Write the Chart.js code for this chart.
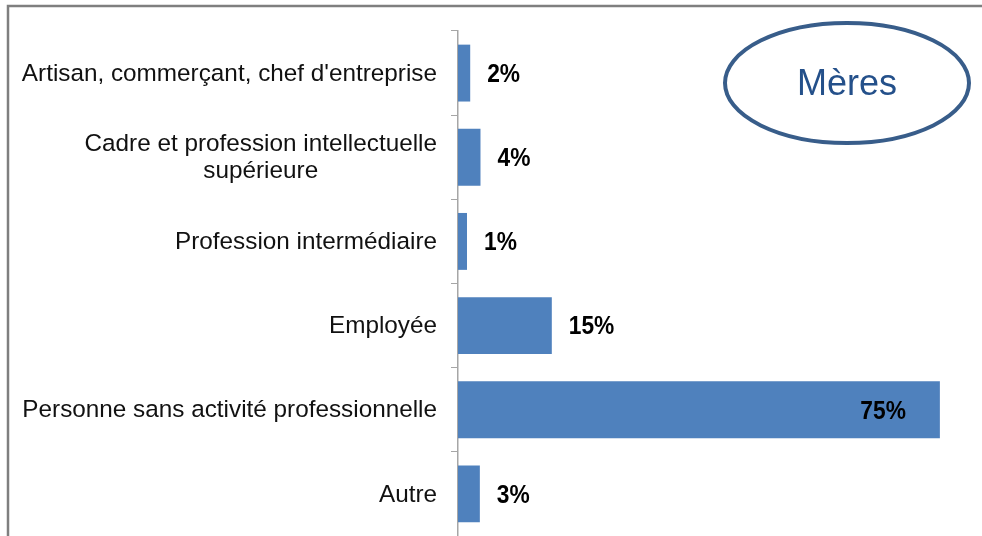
<!DOCTYPE html>
<html>
<head>
<meta charset="utf-8">
<script src="https://cdn.jsdelivr.net/npm/chart.js@4.4.1/dist/chart.umd.min.js"></script>
<style>
  html, body { margin: 0; padding: 0; background: #ffffff; }
  #wrap { width: 982px; height: 536px; position: relative; }
  canvas { display: block; }
</style>
</head>
<body>
<div id="wrap"><canvas id="c" width="982" height="536"></canvas></div>
<script>
// ---- Data ----
const categories = [
  "Artisan, commerçant, chef d'entreprise",
  ["Cadre et profession intellectuelle", "supérieure"],
  "Profession intermédiaire",
  "Employée",
  "Personne sans activité professionnelle",
  "Autre"
];
const values = [1.9, 3.5, 1.4, 14.6, 75.0, 3.4];
const valueLabels = ["2%", "4%", "1%", "15%", "75%", "3%"];
const badgeText = "Mères";

const FONT = '"Liberation Sans", Arial, Helvetica, sans-serif';

const framePlugin = {
  id: 'frame',
  beforeDraw(chart) {
    const ctx = chart.ctx;
    ctx.save();
    ctx.fillStyle = '#ffffff';
    ctx.fillRect(0, 0, chart.width, chart.height);
    ctx.strokeStyle = '#7f7f7f';
    ctx.lineWidth = 2.5;
    ctx.strokeRect(8, 6, 1200, 1200);
    ctx.restore();
  }
};

const textPlugin = {
  id: 'texts',
  afterDraw(chart) {
    const ctx = chart.ctx;
    const yScale = chart.scales.y;
    const meta = chart.getDatasetMeta(0);
    ctx.save();
    // category labels: block right-aligned, lines centred within block
    ctx.font = '24.3px ' + FONT;
    ctx.fillStyle = '#111111';
    ctx.textBaseline = 'middle';
    ctx.textAlign = 'center';
    const rightX = yScale.right - 21;
    const lh = 27;
    categories.forEach((lab, i) => {
      const lines = Array.isArray(lab) ? lab : [lab];
      const w = Math.max(...lines.map(l => ctx.measureText(l).width));
      const cx = rightX - w / 2;
      const cy = yScale.getPixelForValue(i);
      const y0 = cy - (lines.length - 1) * lh / 2;
      lines.forEach((l, k) => ctx.fillText(l, cx, y0 + k * lh + 1));
    });
    // data labels (slightly narrow bold)
    ctx.font = 'bold 25px ' + FONT;
    ctx.fillStyle = '#000000';
    const sx = 0.91;
    meta.data.forEach((bar, i) => {
      const v = values[i];
      ctx.save();
      let x;
      if (v > 50) {
        ctx.textAlign = 'right';
        x = bar.x - 34;
      } else {
        ctx.textAlign = 'left';
        x = bar.x + 17;
      }
      ctx.translate(x, bar.y + 2);
      ctx.scale(sx, 1);
      ctx.fillText(valueLabels[i], 0, 0);
      ctx.restore();
    });
    // badge ellipse
    ctx.beginPath();
    ctx.ellipse(847, 83, 122, 60, 0, 0, Math.PI * 2);
    ctx.fillStyle = '#ffffff';
    ctx.fill();
    ctx.lineWidth = 4;
    ctx.strokeStyle = '#385d8a';
    ctx.stroke();
    ctx.font = '36px ' + FONT;
    ctx.fillStyle = '#24508a';
    ctx.textAlign = 'center';
    ctx.fillText(badgeText, 847, 85);
    ctx.restore();
  }
};

new Chart(document.getElementById('c'), {
  type: 'bar',
  data: {
    labels: categories,
    datasets: [{
      data: values,
      backgroundColor: '#4f81bd',
      borderWidth: 0,
      categoryPercentage: 1.0,
      barPercentage: 0.676
    }]
  },
  options: {
    indexAxis: 'y',
    responsive: false,
    animation: false,
    devicePixelRatio: 1,
    layout: { padding: { top: 31, right: 10, bottom: 0, left: 0 } },
    plugins: {
      legend: { display: false },
      tooltip: { enabled: false },
      title: { display: false }
    },
    scales: {
      x: {
        display: false,
        min: 0,
        max: 80
      },
      y: {
        position: 'left',
        grid: {
          display: true,
          offset: true,
          drawOnChartArea: false,
          drawTicks: true,
          tickLength: 7,
          color: '#a6a6a6',
          lineWidth: 1
        },
        border: { display: true, color: '#a6a6a6', width: 1.5 },
        ticks: { display: false },
        afterFit(scale) { scale.width = 458; }
      }
    }
  },
  plugins: [framePlugin, textPlugin]
});
</script>
</body>
</html>
